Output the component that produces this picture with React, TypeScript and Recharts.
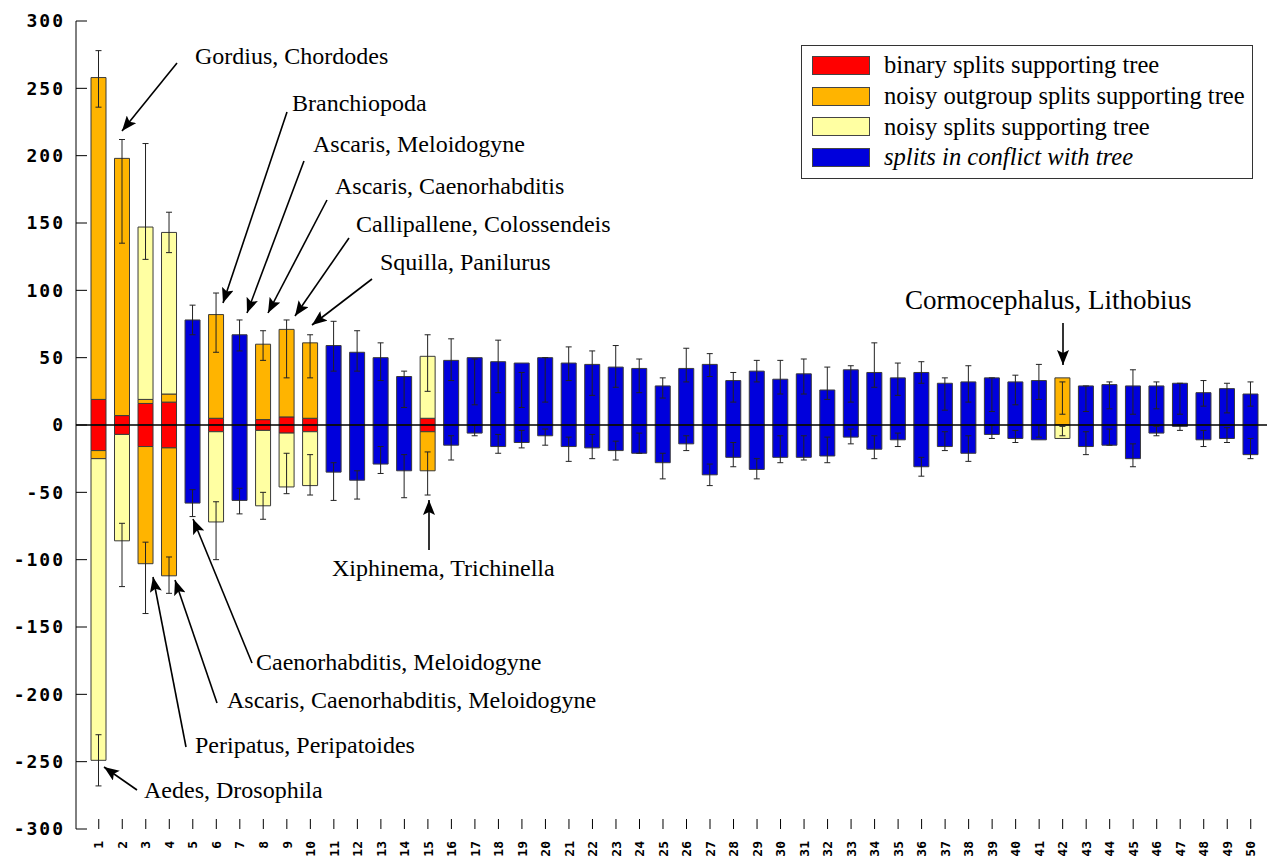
import React from "react"
import {
  BarChart,
  Bar,
  XAxis,
  YAxis,
  ErrorBar,
  ReferenceLine,
  Legend,
} from "recharts"

const categories = [
  "1", "2", "3", "4", "5", "6", "7", "8", "9", "10",
  "11", "12", "13", "14", "15", "16", "17", "18", "19", "20",
  "21", "22", "23", "24", "25", "26", "27", "28", "29", "30",
  "31", "32", "33", "34", "35", "36", "37", "38", "39", "40",
  "41", "42", "43", "44", "45", "46", "47", "48", "49", "50",
]

// binary splits supporting tree
const binaryUp = [
  19, 7, 16, 17, 0, 5, 0, 4, 6, 5, 0, 0, 0, 0, 5, 0, 0, 0, 0, 0, 0, 0, 0, 0, 0,
  0, 0, 0, 0, 0, 0, 0, 0, 0, 0, 0, 0, 0, 0, 0, 0, 0, 0, 0, 0, 0, 0, 0, 0, 0,
]
const binaryDown = [
  -19, -7, -16, -17, 0, -5, 0, -4, -6, -5, 0, 0, 0, 0, -5, 0, 0, 0, 0, 0, 0, 0, 0, 0, 0,
  0, 0, 0, 0, 0, 0, 0, 0, 0, 0, 0, 0, 0, 0, 0, 0, 0, 0, 0, 0, 0, 0, 0, 0, 0,
]
// noisy outgroup splits supporting tree
const outgroupUp = [
  239, 191, 3, 6, 0, 77, 0, 56, 65, 56, 0, 0, 0, 0, 0, 0, 0, 0, 0, 0, 0, 0, 0, 0, 0,
  0, 0, 0, 0, 0, 0, 0, 0, 0, 0, 0, 0, 0, 0, 0, 0, 35, 0, 0, 0, 0, 0, 0, 0, 0,
]
const outgroupDown = [
  -6, 0, -87, -95, 0, 0, 0, 0, 0, 0, 0, 0, 0, 0, -29, 0, 0, 0, 0, 0, 0, 0, 0, 0, 0,
  0, 0, 0, 0, 0, 0, 0, 0, 0, 0, 0, 0, 0, 0, 0, 0, 0, 0, 0, 0, 0, 0, 0, 0, 0,
]
// noisy splits supporting tree
const noisyUp = [
  0, 0, 128, 120, 0, 0, 0, 0, 0, 0, 0, 0, 0, 0, 46, 0, 0, 0, 0, 0, 0, 0, 0, 0, 0,
  0, 0, 0, 0, 0, 0, 0, 0, 0, 0, 0, 0, 0, 0, 0, 0, 0, 0, 0, 0, 0, 0, 0, 0, 0,
]
const noisyDown = [
  -224, -79, 0, 0, 0, -67, 0, -56, -40, -40, 0, 0, 0, 0, 0, 0, 0, 0, 0, 0, 0, 0, 0, 0, 0,
  0, 0, 0, 0, 0, 0, 0, 0, 0, 0, 0, 0, 0, 0, 0, 0, -10, 0, 0, 0, 0, 0, 0, 0, 0,
]
// splits in conflict with tree
const conflictUp = [
  0, 0, 0, 0, 78, 0, 67, 0, 0, 0, 59, 54, 50, 36, 0, 48, 50, 47, 46, 50, 46, 45, 43, 42, 29,
  42, 45, 33, 40, 34, 38, 26, 41, 39, 35, 39, 31, 32, 35, 32, 33, 0, 29, 30, 29, 29, 31, 24, 27, 23,
]
const conflictDown = [
  0, 0, 0, 0, -58, 0, -56, 0, 0, 0, -35, -41, -29, -34, 0, -15, -6, -16, -13, -8, -16, -17, -19, -21, -28,
  -14, -37, -24, -33, -24, -24, -23, -9, -18, -11, -31, -16, -21, -7, -10, -11, 0, -16, -15, -25, -6, -1, -11, -10, -22,
]

// error ranges at the top and bottom end of every bar
const errTopLow = [
  236, 135, 123, 128, 67, 54, 55, 48, 35, 35, 40, 40, 33, 13, 25, 33, 15, 24, 13, 17, 33, 22, 28, 24, 20,
  32, 36, 17, 32, 23, 23, 19, 17, 28, 22, 31, 11, 17, 10, 15, 19, 8, 10, 12, 8, 12, 8, 14, 9, 14,
]
const errTopHigh = [
  278, 212, 209, 158, 89, 98, 78, 70, 78, 67, 77, 70, 61, 40, 67, 64, 49, 63, 39, 50, 58, 55, 59, 49, 35,
  57, 53, 39, 48, 48, 49, 43, 44, 61, 46, 47, 35, 44, 35, 37, 45, 32, 29, 32, 41, 32, 31, 33, 31, 32,
]
const errBottomLow = [
  -268, -120, -140, -125, -68, -100, -66, -70, -51, -52, -56, -55, -36, -54, -52, -26, -8, -21, -17, -15, -27, -25, -26, -21, -40,
  -19, -45, -31, -40, -28, -26, -28, -14, -25, -16, -38, -19, -27, -10, -13, -9, -8, -22, -15, -31, -8, -4, -16, -13, -25,
]
const errBottomHigh = [
  -230, -73, -87, -98, -48, -57, -47, -50, -21, -22, -28, -34, -16, -22, -20, -8, 0, -7, -4, -3, -9, -7, -12, -6, -21,
  -8, -29, -13, -25, -8, -8, -9, -3, -8, -6, -24, -5, -8, 0, -4, 0, -1, -5, -3, -14, -1, 0, -4, -2, -10,
]

const yTicks = [300, 250, 200, 150, 100, 50, 0, -50, -100, -150, -200, -250, -300]

const SERIES = [
  { name: "binary", label: "binary splits supporting tree", up: binaryUp, down: binaryDown, fill: "#ff0000", italic: false },
  { name: "outgroup", label: "noisy outgroup splits supporting tree", up: outgroupUp, down: outgroupDown, fill: "#ffb400", italic: false },
  { name: "noisy", label: "noisy splits supporting tree", up: noisyUp, down: noisyDown, fill: "#ffffa2", italic: false },
  { name: "conflict", label: "splits in conflict with tree", up: conflictUp, down: conflictDown, fill: "#0000dc", italic: true },
]

const rows = categories.map((c, i) => {
  const row: Record<string, any> = { name: c }
  let topKey = ""
  let botKey = ""
  let top = 0
  let bot = 0
  SERIES.forEach((s) => {
    row[s.name + "Up"] = s.up[i]
    row[s.name + "Down"] = s.down[i]
    if (s.up[i] > 0) {
      topKey = s.name + "Up"
      top += s.up[i]
    }
    if (s.down[i] < 0) {
      botKey = s.name + "Down"
      bot += s.down[i]
    }
  })
  if (topKey) row[topKey + "Err"] = [top - errTopLow[i], errTopHigh[i] - top]
  if (botKey) row[botKey + "Err"] = [bot - errBottomLow[i], errBottomHigh[i] - bot]
  return row
})

const NOTES = [
  { text: "Gordius, Chordodes", x: 195, y: 64, from: [177, 63], to: [122, 131] },
  { text: "Branchiopoda", x: 292, y: 111, from: [287, 112], to: [223, 303] },
  { text: "Ascaris, Meloidogyne", x: 313, y: 152, from: [304, 161], to: [247, 313] },
  { text: "Ascaris, Caenorhabditis", x: 335, y: 194, from: [327, 200], to: [268, 313] },
  { text: "Callipallene, Colossendeis", x: 356, y: 232, from: [349, 238], to: [295, 316] },
  { text: "Squilla, Panilurus", x: 380, y: 270, from: [372, 279], to: [312, 325] },
  { text: "Cormocephalus, Lithobius", x: 905, y: 309, from: [1063, 323], to: [1063, 365], size: 27 },
  { text: "Xiphinema, Trichinella", x: 332, y: 576, from: [429, 550], to: [429, 500] },
  { text: "Caenorhabditis, Meloidogyne", x: 256, y: 670, from: [252, 663], to: [193, 519] },
  { text: "Ascaris, Caenorhabditis, Meloidogyne", x: 227, y: 708, from: [217, 703], to: [175, 580] },
  { text: "Peripatus, Peripatoides", x: 195, y: 753, from: [186, 747], to: [153, 577] },
  { text: "Aedes, Drosophila", x: 144, y: 798, from: [137, 790], to: [104, 767] },
]

const XTick = ({ x, y, payload }: any) => (
  <text
    x={x}
    y={y}
    dy="0.36em"
    transform={`rotate(-90 ${x} ${y})`}
    textAnchor="end"
    fontFamily="DejaVu Sans Mono"
    fontWeight="bold"
    fontSize={13}
    fill="#000"
  >
    {payload.value}
  </text>
)

const YTick = ({ x, y, payload }: any) => (
  <text
    x={x}
    y={y}
    dy="0.36em"
    textAnchor="end"
    fontFamily="DejaVu Sans Mono"
    fontWeight="bold"
    fontSize={18}
    letterSpacing={2}
    fill="#000"
  >
    {payload.value}
  </text>
)

const LegendBox = () => (
  <div
    style={{
      width: 450,
      height: 128,
      border: "1px solid #333",
      background: "#fff",
      boxSizing: "content-box",
      paddingTop: 4,
      fontFamily: "Liberation Serif",
      fontSize: 24.6,
      color: "#000",
    }}
  >
    {SERIES.map((s) => (
      <div key={s.name} style={{ display: "flex", alignItems: "center", height: 30.7 }}>
        <div
          style={{
            width: 56,
            height: 17,
            marginLeft: 10,
            marginRight: 14,
            background: s.fill,
            border: "1px solid #444",
          }}
        />
        <span style={{ fontStyle: s.italic ? "italic" : "normal", lineHeight: "24px" }}>{s.label}</span>
      </div>
    ))}
  </div>
)

const App = () => {
  return (
    <div style={{ position: "relative", width: 1267, height: 861, background: "#fff" }}>
      <style>{"body{margin:0;overflow:hidden;background:#fff}"}</style>
      <BarChart
        width={1267}
        height={861}
        data={rows}
        margin={{ top: 21, right: 0, bottom: 0, left: 0 }}
        stackOffset="sign"
        barSize={15}
      >
        <XAxis
          dataKey="name"
          interval={0}
          height={32}
          axisLine={false}
          tickSize={-10}
          tickMargin={22}
          tickLine={{ stroke: "#000" }}
          padding={{ left: 11, right: 4.5 }}
          tick={<XTick />}
        />
        <YAxis
          width={76}
          domain={[-300, 300]}
          ticks={yTicks}
          allowDataOverflow
          axisLine={{ stroke: "#000" }}
          tickLine={{ stroke: "#000" }}
          tickSize={-11}
          tickMargin={22}
          tick={<YTick />}
        />
        <Legend
          layout="vertical"
          align="center"
          verticalAlign="middle"
          content={<LegendBox />}
          wrapperStyle={{ left: 801, top: 45, right: "auto", bottom: "auto", width: 452 }}
        />
        {SERIES.flatMap((s) =>
          ["Up", "Down"].map((d) => (
            <Bar
              key={s.name + d}
              dataKey={s.name + d}
              stackId="s"
              fill={s.fill}
              stroke="#3a3a3a"
              strokeWidth={1}
              legendType="none"
              isAnimationActive={false}
            >
              <ErrorBar dataKey={s.name + d + "Err"} direction="y" width={3} stroke="#222" strokeWidth={1} />
            </Bar>
          ))
        )}
        <ReferenceLine y={0} stroke="#000" strokeWidth={1.5} />
      </BarChart>
      <svg
        width={1267}
        height={861}
        style={{ position: "absolute", left: 0, top: 0, pointerEvents: "none" }}
      >
        <defs>
          <marker
            id="head"
            markerUnits="userSpaceOnUse"
            markerWidth={15}
            markerHeight={12}
            refX={15}
            refY={6}
            orient="auto"
          >
            <path d="M0,0 L15,6 L0,12 L3,6 z" fill="#000" />
          </marker>
        </defs>
        {NOTES.map((n) => (
          <g key={n.text}>
            <line
              x1={n.from[0]}
              y1={n.from[1]}
              x2={n.to[0]}
              y2={n.to[1]}
              stroke="#000"
              strokeWidth={1.6}
              markerEnd="url(#head)"
            />
            <text x={n.x} y={n.y} fontFamily="Liberation Serif" fontSize={n.size || 24} fill="#000">
              {n.text}
            </text>
          </g>
        ))}
      </svg>
    </div>
  )
}

export default App
